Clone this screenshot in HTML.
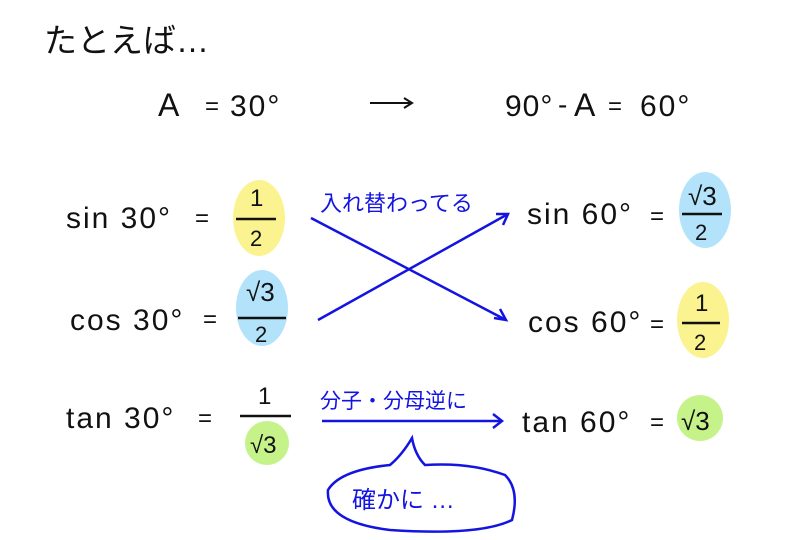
<!DOCTYPE html>
<html><head><meta charset="utf-8"><style>
html,body{margin:0;padding:0;background:#fff;width:802px;height:540px;overflow:hidden}
svg text{font-family:"Liberation Sans","Noto Sans CJK JP",sans-serif}
</style></head><body>
<svg width="802" height="540" viewBox="0 0 802 540" xmlns="http://www.w3.org/2000/svg">
<g fill="#111" font-size="30">
<text x="44" y="52" font-size="33">たとえば…</text>
<text x="158" y="116" font-size="32">A</text>
<text x="205" y="114" font-size="24">=</text>
<text x="230" y="116" font-size="30" letter-spacing="2">30°</text>
<line x1="370" y1="103" x2="410" y2="103" stroke="#111" stroke-width="2"/>
<path d="M404 98 L412 103 L404 108" stroke="#111" stroke-width="2" fill="none"/>
<text x="505" y="116" font-size="30" letter-spacing="1">90°</text>
<text x="558" y="114" font-size="28">-</text>
<text x="574" y="116" font-size="32">A</text>
<text x="608" y="114" font-size="24">=</text>
<text x="640" y="116" font-size="30" letter-spacing="2">60°</text>
</g>
<ellipse cx="259" cy="218" rx="26" ry="38" fill="#fbf38f"/>
<ellipse cx="262" cy="308" rx="26" ry="38" fill="#b3e3fb"/>
<circle cx="267" cy="443" r="22" fill="#c6f28a"/>
<ellipse cx="705" cy="210" rx="26" ry="38" fill="#b3e3fb"/>
<ellipse cx="703" cy="320" rx="26" ry="38" fill="#fbf38f"/>
<circle cx="700" cy="418" r="23" fill="#c6f28a"/>
<g fill="#111" font-size="30" letter-spacing="2">
<text x="66" y="228">sin 30°</text>
<text x="70" y="330">cos 30°</text>
<text x="66" y="428">tan 30°</text>
<text x="527" y="224">sin 60°</text>
<text x="528" y="332">cos 60°</text>
<text x="522" y="432">tan 60°</text>
</g>
<g fill="#111" font-size="30">
<text x="195" y="226" font-size="24">=</text>
<text x="250" y="206" font-size="24">1</text>
<line x1="236" y1="219" x2="276" y2="219" stroke="#111" stroke-width="2.5"/>
<text x="250" y="246" font-size="22">2</text>
<text x="203" y="327" font-size="24">=</text>
<text x="246" y="301" font-size="26">√3</text>
<line x1="238" y1="318" x2="286" y2="318" stroke="#111" stroke-width="2.5"/>
<text x="255" y="342" font-size="22">2</text>
<text x="198" y="426" font-size="24">=</text>
<text x="258" y="404" font-size="24">1</text>
<line x1="240" y1="416" x2="291" y2="416" stroke="#111" stroke-width="2.5"/>
<text x="250" y="453" font-size="24">√3</text>
<text x="650" y="224" font-size="24">=</text>
<text x="688" y="205" font-size="26">√3</text>
<line x1="682" y1="214" x2="722" y2="214" stroke="#111" stroke-width="2.5"/>
<text x="695" y="240" font-size="22">2</text>
<text x="650" y="332" font-size="24">=</text>
<text x="695" y="311" font-size="24">1</text>
<line x1="682" y1="323" x2="720" y2="323" stroke="#111" stroke-width="2.5"/>
<text x="694" y="350" font-size="22">2</text>
<text x="650" y="430" font-size="24">=</text>
<text x="681" y="430" font-size="26">√3</text>
</g>
<g stroke="#1414e0" stroke-width="2.5" fill="none">
<line x1="311" y1="218" x2="506" y2="320"/>
<path d="M494 318 L506 320 L500 309"/>
<line x1="318" y1="320" x2="508" y2="214"/>
<path d="M496 214 L508 214 L503 225"/>
<line x1="322" y1="421" x2="502" y2="421"/>
<path d="M493 414 L502 421 L493 428"/>
<path d="M412 438 Q402 455 390 465 Q340 470 328 490 Q325 522 390 530 Q480 536 512 520 Q520 490 505 475 Q470 462 425 465 Q415 455 412 438 Z"/>
</g>
<g fill="#1414e0">
<text x="320" y="211" font-size="22">入れ替わってる</text>
<text x="320" y="408" font-size="21">分子・分母逆に</text>
<text x="352" y="508" font-size="24">確かに …</text>
</g>
</svg>
</body></html>
